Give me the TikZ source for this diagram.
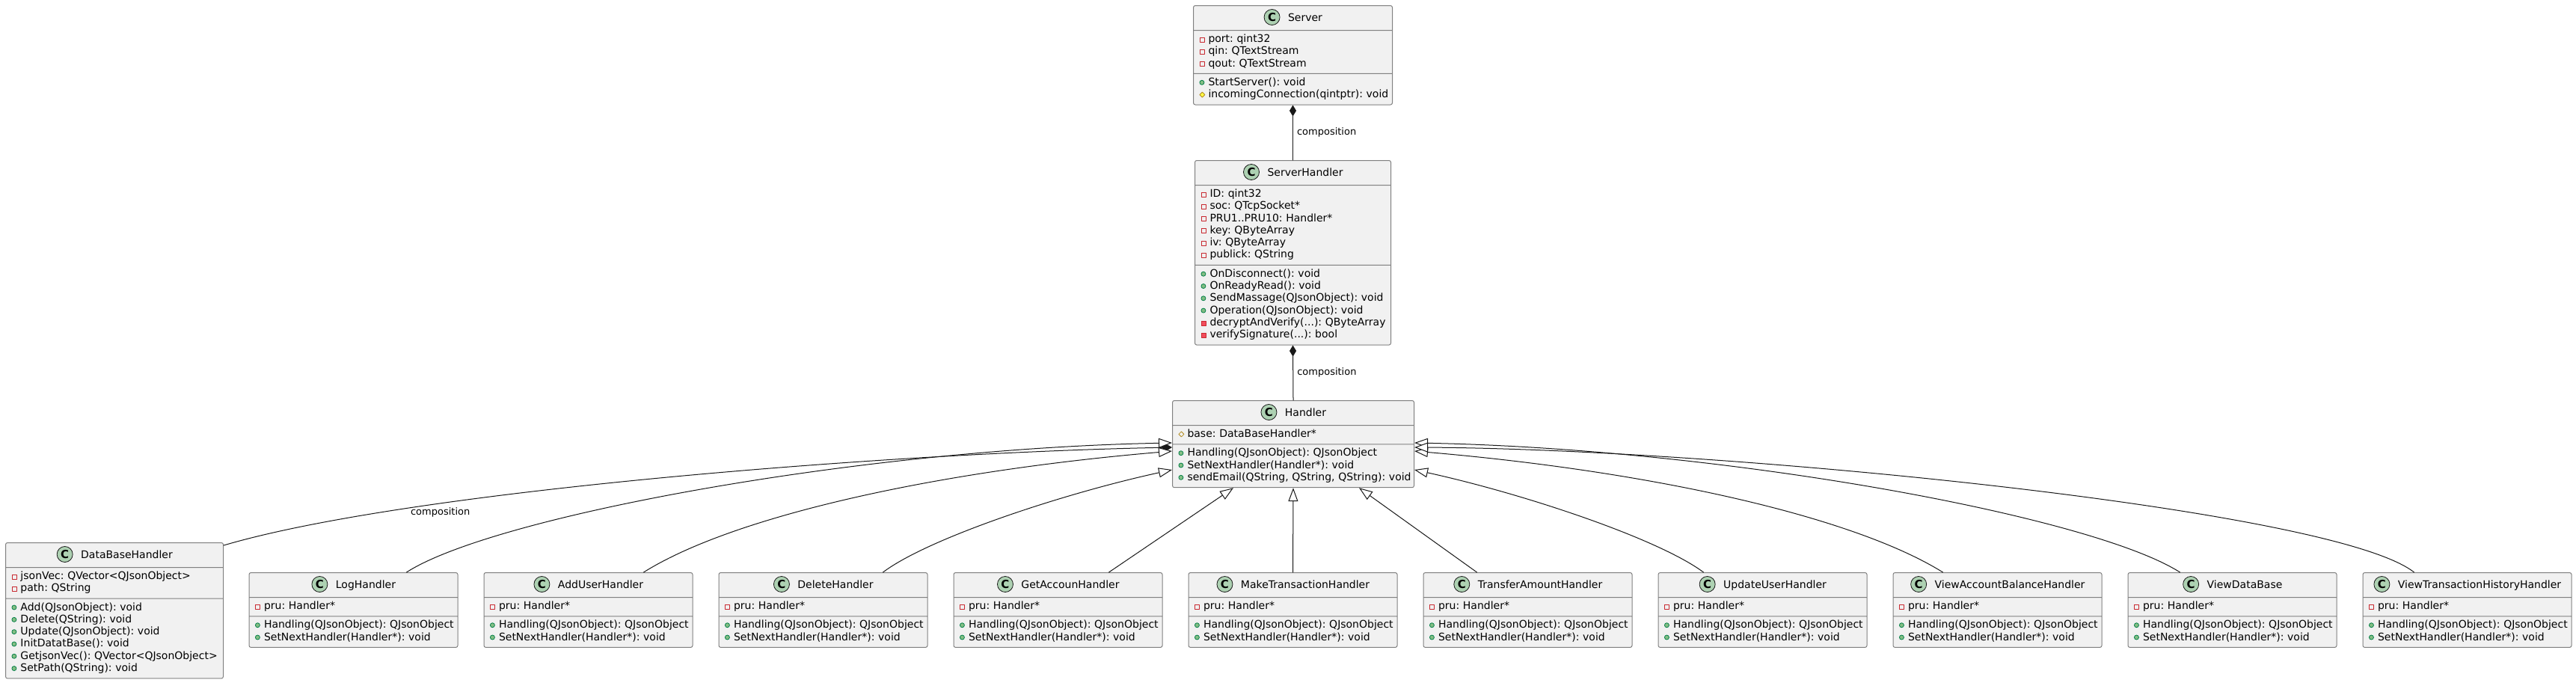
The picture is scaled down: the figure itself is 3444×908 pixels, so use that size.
\documentclass[tikz,border=0pt]{standalone}
\usepackage{fontspec}
\setmainfont{DejaVu Sans}
\usepackage{tikz}
\usetikzlibrary{shapes.multipart}
\usetikzlibrary{arrows.meta}
\frenchspacing

\definecolor{classfill}{HTML}{F1F1F1}
\definecolor{classline}{HTML}{808080}
\definecolor{edgeline}{HTML}{181818}
\definecolor{circfill}{HTML}{ADD1B2}
\definecolor{privred}{HTML}{C82930}
\definecolor{privfill}{HTML}{F24D5C}
\definecolor{pubfill}{HTML}{84BE84}
\definecolor{publine}{HTML}{038048}
\definecolor{protline}{HTML}{B38D22}
\definecolor{protfill}{HTML}{FFFF44}

\tikzset{icon/.style={sharp corners,line width=0.8pt}}

% member markers
\newcommand{\privf}{\tikz[baseline=0pt]\draw[icon,draw=privred] (0.5pt,0.5pt) rectangle (6.5pt,6.5pt);}
\newcommand{\privm}{\tikz[baseline=0pt]\filldraw[icon,draw=privred,fill=privfill] (0.5pt,0.5pt) rectangle (6.5pt,6.5pt);}
\newcommand{\pubm}{\tikz[baseline=0pt]\filldraw[icon,draw=publine,fill=pubfill] (3.5pt,4pt) circle (3pt);}
\newcommand{\protf}{\tikz[baseline=0pt]\draw[icon,draw=protline] (0pt,4pt) -- (3.5pt,7.5pt) -- (7pt,4pt) -- (3.5pt,0.5pt) -- cycle;}
\newcommand{\protm}{\tikz[baseline=0pt]\filldraw[icon,draw=protline,fill=protfill] (0pt,4pt) -- (3.5pt,7.5pt) -- (7pt,4pt) -- (3.5pt,0.5pt) -- cycle;}
\newcommand{\cicon}{\makebox[23pt]{\tikz[baseline=-5pt]\filldraw[icon,fill=circfill,draw=edgeline] (0pt,0pt) circle (10.5pt);}\hspace{-23pt}\makebox[23pt]{\bfseries\fontsize{15}{15}\selectfont C}}
\newcommand{\umlrow}[2]{\makebox[13pt][l]{\hspace{1pt}#1}\mbox{#2}\strut}
\newcommand{\clsname}[1]{\makebox[\hsize]{\rule[-8pt]{0pt}{24pt}\cicon\hspace{10pt}#1}}
\newcommand{\handlerparts}{\nodepart{two}\umlrow{\privf}{pru: Handler*}%
  \nodepart{three}\umlrow{\pubm}{Handling(QJsonObject): QJsonObject}\\
  \umlrow{\pubm}{SetNextHandler(Handler*): void}}

\begin{document}
\begin{tikzpicture}[x=1pt,y=-1pt,line cap=round,line join=round,
  classbox/.style={rectangle split,rectangle split parts=3,draw=classline,fill=classfill,
    line width=1pt,rounded corners=2.5pt,text width=#1,align=left,
    inner xsep=7pt,inner ysep=4pt,anchor=north west,font=\fontsize{14}{16.3}\selectfont},
  inh/.style={draw=edgeline,line width=1pt,arrows={-Triangle[length=18pt,width=13pt,fill=white]}},
  compo/.style={draw=edgeline,line width=1pt,arrows={Diamond[length=15pt,width=9pt]-}},
  lbl/.style={font=\fontsize{13}{15}\selectfont,inner sep=0pt}]
\useasboundingbox (0,0) rectangle (3444,908);
% Server and ServerHandler
\node[classbox=252pt] (server) at (1595,7) {\clsname{Server}
  \nodepart{two}\umlrow{\privf}{port: qint32}\\
  \umlrow{\privf}{qin: QTextStream}\\
  \umlrow{\privf}{qout: QTextStream}
  \nodepart{three}\umlrow{\pubm}{StartServer(): void}\\
  \umlrow{\protm}{incomingConnection(qintptr): void}};
\node[classbox=248pt] (srvhandler) at (1597,214) {\clsname{ServerHandler}
  \nodepart{two}\umlrow{\privf}{ID: qint32}\\
  \umlrow{\privf}{soc: QTcpSocket*}\\
  \umlrow{\privf}{PRU1..PRU10: Handler*}\\
  \umlrow{\privf}{key: QByteArray}\\
  \umlrow{\privf}{iv: QByteArray}\\
  \umlrow{\privf}{publick: QString}
  \nodepart{three}\umlrow{\pubm}{OnDisconnect(): void}\\
  \umlrow{\pubm}{OnReadyRead(): void}\\
  \umlrow{\pubm}{SendMassage(QJsonObject): void}\\
  \umlrow{\pubm}{Operation(QJsonObject): void}\\
  \umlrow{\privm}{decryptAndVerify(...): QByteArray}\\
  \umlrow{\privm}{verifySignature(...): bool}};
% Handler
\node[classbox=309pt] (handler) at (1567,535) {\clsname{Handler}
  \nodepart{two}\umlrow{\protf}{base: DataBaseHandler*}
  \nodepart{three}\umlrow{\pubm}{Handling(QJsonObject): QJsonObject}\\
  \umlrow{\pubm}{SetNextHandler(Handler*): void}\\
  \umlrow{\pubm}{sendEmail(QString, QString, QString): void}};
% DataBaseHandler
\node[classbox=277pt] (dbhandler) at (7,725) {\clsname{DataBaseHandler}
  \nodepart{two}\umlrow{\privf}{jsonVec: QVector<QJsonObject>}\\
  \umlrow{\privf}{path: QString}
  \nodepart{three}\umlrow{\pubm}{Add(QJsonObject): void}\\
  \umlrow{\pubm}{Delete(QString): void}\\
  \umlrow{\pubm}{Update(QJsonObject): void}\\
  \umlrow{\pubm}{InitDatatBase(): void}\\
  \umlrow{\pubm}{GetjsonVec(): QVector<QJsonObject>}\\
  \umlrow{\pubm}{SetPath(QString): void}};
% concrete handlers
\node[classbox=265pt] (loghandler) at (332.5,765) {\clsname{LogHandler}\handlerparts};
\node[classbox=265pt] (adduser) at (646.5,765) {\clsname{AddUserHandler}\handlerparts};
\node[classbox=265pt] (deleteh) at (960.5,765) {\clsname{DeleteHandler}\handlerparts};
\node[classbox=265pt] (getaccoun) at (1274.5,765) {\clsname{GetAccounHandler}\handlerparts};
\node[classbox=265pt] (maketrans) at (1588.5,765) {\clsname{MakeTransactionHandler}\handlerparts};
\node[classbox=265pt] (transfer) at (1902.5,765) {\clsname{TransferAmountHandler}\handlerparts};
\node[classbox=265pt] (updateuser) at (2216.5,765) {\clsname{UpdateUserHandler}\handlerparts};
\node[classbox=265pt] (viewbal) at (2530.5,765) {\clsname{ViewAccountBalanceHandler}\handlerparts};
\node[classbox=265pt] (viewdb) at (2844.5,765) {\clsname{ViewDataBase}\handlerparts};
\node[classbox=265pt] (viewhist) at (3158.5,765) {\clsname{ViewTransactionHistoryHandler}\handlerparts};
% compositions
\draw[compo] (server.south) -- (srvhandler.north) node[lbl,midway,right=5pt] {composition};
\draw[compo] (srvhandler.south) -- (handler.north) node[lbl,midway,right=5pt] {composition};
\draw[compo] ([yshift=-63pt]handler.north west) .. controls (1200,605) and (550,655) .. ([yshift=-4pt]dbhandler.north east)
  node[lbl,pos=0.72,below=5pt] {composition};
% inheritance, left side
\draw[inh] ([xshift=71pt]loghandler.north) .. controls (660,690) and (1150,600) .. ([yshift=-57pt]handler.north west);
\draw[inh] ([xshift=74pt]adduser.north) .. controls (980,690) and (1250,630) .. ([yshift=-68pt]handler.north west);
\draw[inh] ([xshift=80pt]deleteh.north) .. controls (1240,720) and (1420,660) .. ([yshift=-93pt]handler.north west);
% inheritance, bottom
\draw[inh] ([xshift=68pt]getaccoun.north) -- ([xshift=-80pt]handler.south);
\draw[inh] (maketrans.north) -- (handler.south);
\draw[inh] ([xshift=-68pt]transfer.north) -- ([xshift=88pt]handler.south);
% inheritance, right side
\draw[inh] ([xshift=-79pt]updateuser.north) .. controls (2217,720) and (2037,660) .. ([yshift=-93pt]handler.north east);
\draw[inh] ([xshift=-73pt]viewbal.north) .. controls (2477,690) and (2207,630) .. ([yshift=-68pt]handler.north east);
\draw[inh] ([xshift=-70pt]viewdb.north) .. controls (2797,690) and (2307,600) .. ([yshift=-57pt]handler.north east);
\draw[inh] ([xshift=-71pt]viewhist.north) .. controls (3120,680) and (2300,600) .. ([yshift=-63pt]handler.north east);
\end{tikzpicture}
\end{document}
